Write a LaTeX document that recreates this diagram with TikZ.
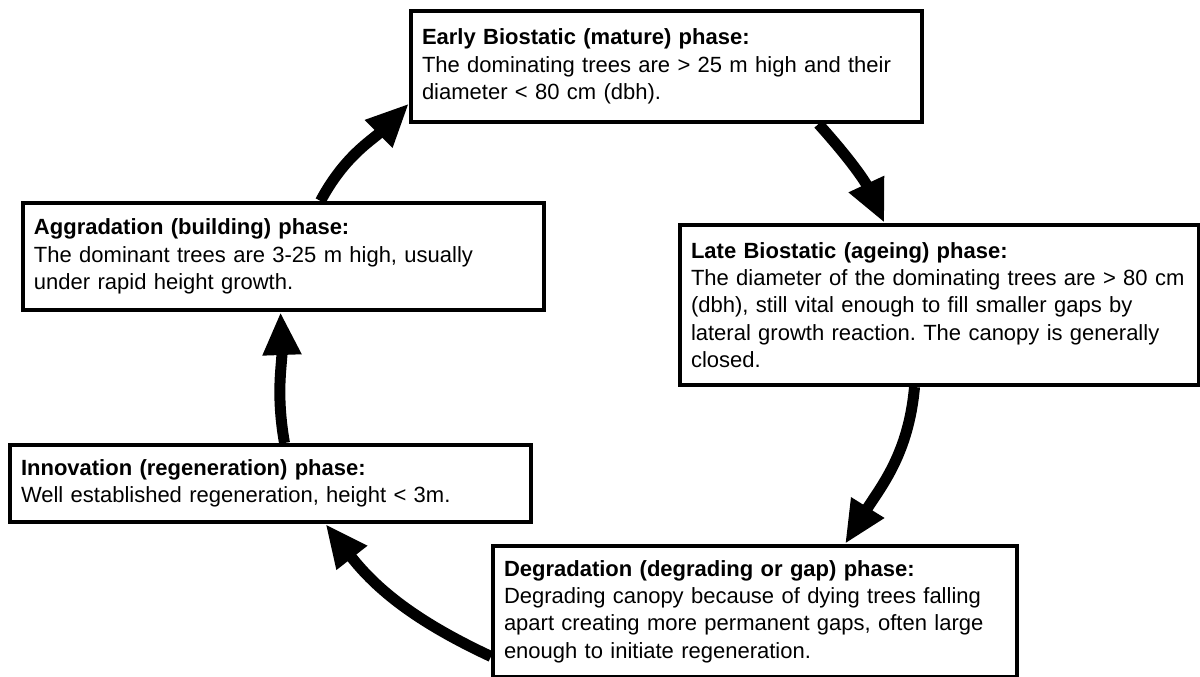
\documentclass[tikz,border=0pt]{standalone}
\usepackage{fontspec}
\setmainfont{Liberation Sans}
\usetikzlibrary{arrows.meta}
\frenchspacing

\begin{document}
\begin{tikzpicture}[x=1pt, y=1pt,
	phase/.style={draw, line width=4pt, anchor=north west, align=left, inner xsep=11pt, inner ysep=0pt, font=\fontsize{22}{27.3}\selectfont},
	turn/.style={line width=11pt, -{Triangle[length=43pt, width=36pt]}}]
	\useasboundingbox (0,0) rectangle (1200,677);
	\node [phase, text width=489pt, minimum height=111pt] (early) at (409,668) {\textbf{Early Biostatic (mature) phase:}\\The dominating trees are > 25 m high and their\\diameter < 80 cm (dbh).};
	\node [phase, text width=499pt, minimum height=107pt] (aggr) at (21,476) {\textbf{Aggradation (building) phase:}\\The dominant trees are 3-25 m high, usually\\under rapid height growth.};
	\node [phase, text width=497pt, minimum height=160pt] (late) at (678,454) {\textbf{Late Biostatic (ageing) phase:}\\The diameter of the dominating trees are > 80 cm\\(dbh), still vital enough to fill smaller gaps by\\lateral growth reaction. The canopy is generally\\closed.};
	\node [phase, text width=499pt, minimum height=77pt] (innov) at (8,234) {\textbf{Innovation (regeneration) phase:}\\Well established regeneration, height < 3m.};
	\node [phase, text width=502pt, minimum height=131pt] (degr) at (491,133) {\textbf{Degradation (degrading or gap) phase:}\\Degrading canopy because of dying trees falling\\apart creating more permanent gaps, often large\\enough to initiate regeneration.};
	\draw [turn] ([xshift=37pt]aggr.north) to [out=62, in=225] ([yshift=-37pt]early.west);
	\draw [turn] ([xshift=152pt]early.south) to [out=-48, in=115] ([xshift=-55pt]late.north);
	\draw [turn] ([xshift=-25pt]late.south) to [out=-95, in=58] ([xshift=90pt]degr.north);
	\draw [turn] ([yshift=-45pt]degr.west) to [out=155, in=-52] ([xshift=55pt]innov.south);
	\draw [turn] ([xshift=14pt]innov.north) to [out=100, in=-88] ([xshift=-3pt]aggr.south);
\end{tikzpicture}
\end{document}
